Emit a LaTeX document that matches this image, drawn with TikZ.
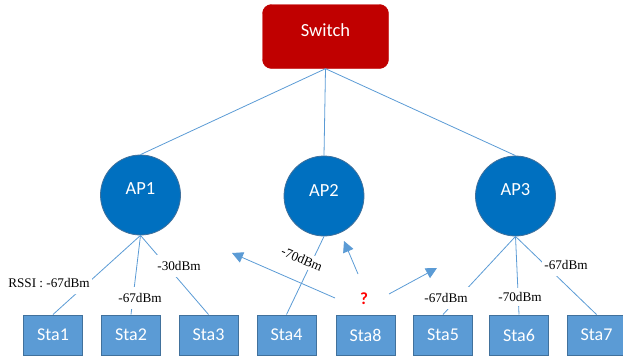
\documentclass[tikz,border=0pt]{standalone}
\usepackage{fontspec}
\setmainfont{Liberation Serif}
\newfontfamily\calfont{Carlito}
\usetikzlibrary{arrows.meta}
\definecolor{lineblue}{HTML}{5B9BD5}
\definecolor{stafill}{HTML}{5B9BD5}
\definecolor{staborder}{HTML}{41719C}
\definecolor{apfill}{HTML}{0070C0}
\definecolor{apborder}{HTML}{41719C}
\definecolor{swfill}{HTML}{C00000}
\newcommand{\upby}[1]{\raisebox{6pt}[\height][\depth]{#1}}
\begin{document}
\begin{tikzpicture}[x=1pt,y=-1pt,
  link/.style={draw=lineblue, line width=0.8pt},
  arr/.style={draw=lineblue, line width=0.8pt, -{Triangle[length=11pt,width=11pt,fill=lineblue]}},
  stabox/.style={draw=staborder, fill=stafill, line width=1pt, minimum width=59pt, minimum height=40pt, inner sep=0pt, text=white, font=\calfont\fontsize{18}{18}\selectfont},
  apnode/.style={circle, draw=apborder, fill=apfill, line width=0.8pt, minimum size=80pt, inner sep=0pt, text=white, font=\calfont\fontsize{18.5}{18}\selectfont},
  swnode/.style={rounded corners=9pt, draw=swfill, fill=swfill, minimum width=126pt, minimum height=64pt, inner sep=0pt, text=white, font=\calfont\fontsize{18.5}{18}\selectfont},
  lbl/.style={fill=white, inner xsep=2pt, inner ysep=6pt, font=\fontsize{13.2}{14}\selectfont},
  qmark/.style={text=red, font=\calfont\bfseries\fontsize{17}{17}\selectfont, inner sep=1pt}
]
\useasboundingbox (0,0) rectangle (623,356);

\node[swnode] (sw) at (325.5,36.5) {\upby{Switch}};
\node[apnode] (ap1) at (140.5,195) {\upby{AP1}};
\node[apnode] (ap2) at (324,196) {\upby{AP2}};
\node[apnode] (ap3) at (515.5,196) {\upby{AP3}};

\node[stabox] (s1) at (53,335) {Sta1};
\node[stabox] (s2) at (131,335) {Sta2};
\node[stabox] (s3) at (208.5,335) {Sta3};
\node[stabox] (s4) at (286.5,335) {Sta4};
\node[stabox] (s8) at (365.5,335) {Sta8};
\node[stabox] (s5) at (443,335) {Sta5};
\node[stabox] (s6) at (519,335) {Sta6};
\node[stabox] (s7) at (596.5,335) {Sta7};

\draw[link] (sw.south) -- (ap1.north);
\draw[link] (sw.south) -- (ap2.north);
\draw[link] (sw.south) -- (ap3.north);

\draw[link] (ap1.south) -- (s1.north);
\draw[link] (ap1.south) -- (s2.north);
\draw[link] (ap1.south) -- (s3.north);
\draw[link] (ap2.south) -- (s4.north);
\draw[link] (ap3.south) -- (s5.north);
\draw[link] (ap3.south) -- (s6.north);
\draw[link] (ap3.south) -- (s7.north);

\coordinate (a1s) at (335,298);
\coordinate (a1e) at (232,253);
\coordinate (a2s) at (358,274);
\coordinate (a2e) at (344,241);
\coordinate (a3s) at (389,294);
\coordinate (a3e) at (437,268);
\draw[arr] (a1s) -- (a1e);
\draw[arr] (a2s) -- (a2e);
\draw[arr] (a3s) -- (a3e);

\node[lbl] (l1) at (49,283) {RSSI : -67dBm};
\node[lbl] (l2) at (140,298) {-67dBm};
\node[lbl] (l3) at (179,266) {-30dBm};
\node[lbl, rotate=-23, inner ysep=3pt] (l4) at (302,259) {-70dBm};
\node[lbl] (l5) at (446,298) {-67dBm};
\node[lbl, inner ysep=4pt] (l6) at (520,297) {-70dBm};
\node[lbl] (l7) at (566,265) {-67dBm};
\node[qmark] (q) at (364,299) {?};
\end{tikzpicture}
\end{document}
